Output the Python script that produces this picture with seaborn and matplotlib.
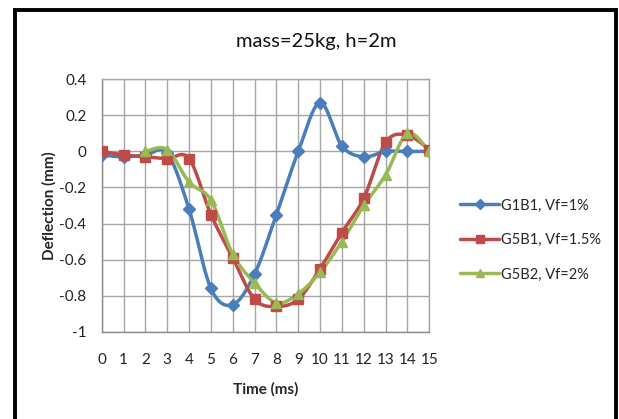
import numpy as np
import pandas as pd
import seaborn as sns
import matplotlib.pyplot as plt
from matplotlib.lines import Line2D
from matplotlib.patches import Rectangle

# Deflection readings (mm) over time (ms)
time_ms = list(range(16))
g1b1 = [-0.02, -0.03, -0.02, -0.01, -0.32, -0.76, -0.85, -0.68, -0.35, 0.0,
        0.27, 0.03, -0.03, 0.0, 0.0, 0.0]
g5b1 = [0.0, -0.02, -0.03, -0.04, -0.04, -0.35, -0.59, -0.82, -0.86, -0.82,
        -0.65, -0.45, -0.26, 0.05, 0.09, 0.01]
time_g5b2 = list(range(2, 16))
g5b2 = [0.0, 0.01, -0.17, -0.27, -0.57, -0.73, -0.84, -0.79, -0.67, -0.50,
        -0.30, -0.13, 0.10, 0.0]

series_names = ["G1B1, Vf=1%", "G5B1, Vf=1.5%", "G5B2, Vf=2%"]
series_colors = ["#4A7EBB", "#BE4B48", "#98B954"]
series_markers = ["D", "s", "^"]
marker_sizes = [6.0, 6.5, 7.0]

y_ticks = [-1.0, -0.8, -0.6, -0.4, -0.2, 0.0, 0.2, 0.4]
y_tick_labels = ["-1", "-0.8", "-0.6", "-0.4", "-0.2", "0", "0.2", "0.4"]

title_text = "mass=25kg, h=2m"
x_label = "Time (ms)"
y_label = "Deflection (mm)"


def smooth_curve(xs, ys, steps=30):
    """Cubic Bezier smoothing through every point (Catmull-Rom style)."""
    pts = np.column_stack([xs, ys]).astype(float)
    n = len(pts)
    out = []
    for i in range(n - 1):
        p0 = pts[max(i - 1, 0)]
        p1 = pts[i]
        p2 = pts[i + 1]
        p3 = pts[min(i + 2, n - 1)]
        c1 = p1 + (p2 - p0) / 6.0
        c2 = p2 - (p3 - p1) / 6.0
        t = np.linspace(0, 1, steps, endpoint=(i == n - 2))[:, None]
        seg = ((1 - t) ** 3) * p1 + 3 * ((1 - t) ** 2) * t * c1 \
            + 3 * (1 - t) * t ** 2 * c2 + t ** 3 * p2
        out.append(seg)
    arr = np.vstack(out)
    return arr[:, 0], arr[:, 1]


sns.set_style("white")
plt.rcParams['font.family'] = ['Lato', 'DejaVu Sans']
plt.rcParams['axes.unicode_minus'] = False

W, H = 619, 419
fig = plt.figure(figsize=(W / 100, H / 100), dpi=100)
ax = fig.add_axes([101.7 / W, 1 - 331.7 / H, 327.6 / W, 252.4 / H])

grid_color = "#A6A6A6"
datasets = [(time_ms, g1b1), (time_ms, g5b1), (time_g5b2, g5b2)]
handles = []
for (xs, ys), name, col, mk, ms in zip(datasets, series_names, series_colors,
                                       series_markers, marker_sizes):
    sx, sy = smooth_curve(xs, ys)
    curve = pd.DataFrame({"t": sx, "d": sy})
    sns.lineplot(data=curve, x="t", y="d", ax=ax, color=col, lw=2.5,
                 sort=False, estimator=None, zorder=3)
    pts = pd.DataFrame({"t": xs, "d": ys})
    ax.plot(pts["t"], pts["d"], linestyle="none", marker=mk, ms=ms,
            color=col, mec=col, zorder=4)
    handles.append(Line2D([0], [0], color=col, lw=2.5, marker=mk,
                          ms=ms * 0.8, mec=col))

ax.set_xlim(0, 15)
ax.set_ylim(-1.0, 0.4)
ax.set_xticks(time_ms)
ax.set_xticklabels([str(t) for t in time_ms])
ax.set_yticks(y_ticks)
ax.set_yticklabels(y_tick_labels)
ax.grid(True, color=grid_color, lw=1.0)
ax.set_axisbelow(True)
for side in ["top", "right"]:
    ax.spines[side].set_color(grid_color)
    ax.spines[side].set_linewidth(1.0)
for side in ["left", "bottom"]:
    ax.spines[side].set_color("#8C8C8C")
    ax.spines[side].set_linewidth(1.0)
ax.tick_params(axis="both", which="both", direction="out", length=5,
               width=1.0, color="#8C8C8C", labelsize=11, labelcolor="#222222")
ax.tick_params(axis="x", pad=10)
ax.tick_params(axis="y", pad=6)

ax.set_xlabel(x_label, fontsize=11, fontweight="bold", labelpad=11)
ax.set_ylabel(y_label, fontsize=11, fontweight="bold", labelpad=2)

fig.text(316 / W, 1 - 41 / H, title_text, ha="center", va="center",
         fontsize=14.5, color="#111111")

fig.legend(handles, series_names, loc="center left",
           bbox_to_anchor=(460 / W, 1 - 240 / H), frameon=False,
           fontsize=10.5, handlelength=2.7, handletextpad=0.1,
           labelspacing=1.4, borderpad=0, borderaxespad=0, numpoints=1)

# outer black frame around the chart
fig.patches.append(Rectangle((14.5 / W, -0.05), (615.5 - 14.5) / W,
                             1.05 - 10 / H, transform=fig.transFigure,
                             fill=False, edgecolor="black", lw=2.8,
                             zorder=10))

fig.savefig("out.png", dpi=100)
